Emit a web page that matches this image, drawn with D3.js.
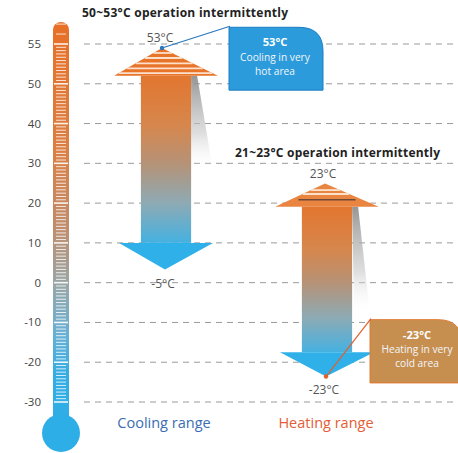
<!DOCTYPE html>
<html>
<head>
<meta charset="utf-8">
<script src="https://cdn.jsdelivr.net/npm/d3@7"></script>
<style>
  body { margin: 0; background: #fff; }
  svg { display: block; font-family: "Open Sans", Lato, sans-serif; }
</style>
</head>
<body>
<svg width="458" height="453"></svg>
<script>
// thermometer scale (labels on the left, dashed grid)
const tickValues = [55, 50, 40, 30, 20, 10, 0, -10, -20, -30];

// the two operating ranges
const ranges = ['Cooling range', 'Heating range'];
const rangeColors = ['#3a6db3', '#e35d36'];
const captions = ['50~53°C operation intermittently', '21~23°C operation intermittently'];
const topLabels = ['53°C', '23°C'];
const bottomLabels = ['-5°C', '-23°C'];

// arrow outline in axis units as drawn (tip, head base, tail base, tail tip)
const arrowTip = [54.5, 24.9];
const headBase = [51, 19.1];
const tailBase = [10, -17.5];
const tailTip = [3.3, -23.6];

// callouts
const calloutTitles = ['53°C', '-23°C'];
const calloutLines = [['Cooling in very', 'hot area'], ['Heating in very', 'cold area']];

const svg = d3.select('svg');
const defs = svg.append('defs');

// piecewise scale: every labelled tick is equally spaced
const yPoint = d3.scalePoint().domain(tickValues).range([44, 402]);
const y = d3.scaleLinear().domain(tickValues).range(tickValues.map((d) => yPoint(d)));

const x = d3.scaleBand().domain(ranges).range([84, 408]);
const bw = x.bandwidth();
const cx = (d) => x(d) + bw / 2;

// gradients
const addGradient = (id, y1, y2, stops) => {
  const g = defs.append('linearGradient').attr('id', id)
    .attr('gradientUnits', 'userSpaceOnUse')
    .attr('x1', 0).attr('x2', 0).attr('y1', y1).attr('y2', y2);
  stops.forEach(([o, c, op]) => g.append('stop').attr('offset', o).attr('stop-color', c).attr('stop-opacity', op == null ? 1 : op));
};

const bodyStops = [[0, '#e2762f'], [0.3, '#d6874e'], [0.52, '#b69276'], [0.76, '#8eaab4'], [1, '#45b1e1']];

// grid
svg.append('g')
  .selectAll('line')
  .data(tickValues)
  .join('line')
  .attr('x1', 84).attr('x2', 458)
  .attr('y1', (d) => y(d)).attr('y2', (d) => y(d))
  .attr('stroke', '#9a9a9a')
  .attr('stroke-dasharray', '6,5');

// tick labels
svg.append('g')
  .selectAll('text')
  .data(tickValues)
  .join('text')
  .attr('x', 41)
  .attr('y', (d) => y(d) + 4)
  .attr('text-anchor', 'end')
  .attr('font-size', 11.5)
  .attr('fill', '#444')
  .text((d) => d);

// thermometer
const tTop = 22;
const bulbY = 433;
addGradient('thermo', tTop, bulbY, [[0, '#e86f26'], [0.3, '#dc7e42'], [0.5, '#c08d6c'], [0.64, '#98a7a8'], [0.76, '#68b0d4'], [0.86, '#33ade4'], [1, '#2eaee6']]);
const thermo = svg.append('g');
thermo.append('rect')
  .attr('x', 53).attr('y', tTop).attr('width', 16).attr('height', bulbY - tTop)
  .attr('rx', 8)
  .attr('fill', 'url(#thermo)');
thermo.append('circle')
  .attr('cx', 61).attr('cy', bulbY).attr('r', 19)
  .attr('fill', '#2eaee6');

// minor ticks: 12 per labelled interval
const minor = [];
for (let i = 0; i < tickValues.length - 1; i++) {
  const a = tickValues[i], b = tickValues[i + 1];
  for (let k = 1; k < 12; k++) minor.push(a + (b - a) * k / 12);
}
[57.5, 56.25].forEach((v) => minor.push(v));
thermo.selectAll('.minor')
  .data(minor)
  .join('line')
  .attr('class', 'minor')
  .attr('x1', 56).attr('x2', 66)
  .attr('y1', (d) => y(d)).attr('y2', (d) => y(d))
  .attr('stroke', '#fff').attr('stroke-opacity', 0.8).attr('stroke-width', 1);
thermo.selectAll('.major')
  .data(tickValues)
  .join('line')
  .attr('class', 'major')
  .attr('x1', 54).attr('x2', 68)
  .attr('y1', (d) => y(d)).attr('y2', (d) => y(d))
  .attr('stroke', '#fff').attr('stroke-opacity', 0.9).attr('stroke-width', 1.6);

// arrows
const arrows = svg.append('g');
ranges.forEach((r, i) => {
  const c = cx(r) + (i === 0 ? 1 : 0);
  const yTip = y(arrowTip[i]);
  const yHead = y(headBase[i]);
  const yTail = y(tailBase[i]);
  const yTailTip = y(tailTip[i]);
  const headHalf = bw * 0.32;
  const bodyHalf = bw * 0.155;
  const tailHalf = bw * 0.29;

  addGradient('body' + i, yHead, yTail, bodyStops);
  addGradient('shadow' + i, yHead, i === 0 ? y(28) : y(-8), [[0, '#8a8a8a', 0.9], [0.6, '#c8c8c8', 0.6], [1, '#ffffff', 0]]);

  // shadow
  const sx = c + bodyHalf;
  const shadowPts = i === 0
    ? [[sx, yHead], [sx + 6, yHead], [sx + 22, y(28)], [sx, y(28)]]
    : [[sx, yHead], [sx + 6, yHead], [sx + 18, y(-8)], [sx + 2, y(-8)]];
  arrows.append('polygon')
    .attr('points', shadowPts.map((p) => p.join(',')).join(' '))
    .attr('fill', 'url(#shadow' + i + ')');

  // body
  arrows.append('rect')
    .attr('x', c - bodyHalf).attr('y', yHead)
    .attr('width', bodyHalf * 2).attr('height', yTail - yHead)
    .attr('fill', 'url(#body' + i + ')');

  // bottom head
  arrows.append('polygon')
    .attr('points', [[c - tailHalf, yTail], [c + tailHalf, yTail], [c - 1, yTailTip]].map((p) => p.join(',')).join(' '))
    .attr('fill', '#2fb0e8');

  // top head with stripes
  const tipX = c - (i === 0 ? 4 : 2);
  arrows.append('polygon')
    .attr('points', [[c - headHalf, yHead], [c + headHalf, yHead], [tipX, yTip]].map((p) => p.join(',')).join(' '))
    .attr('fill', i === 0 ? '#e8742a' : '#e98540');

  const stripeFr = i === 0 ? [0.18, 0.36, 0.55, 0.73, 0.9] : [0.28, 0.45];
  stripeFr.forEach((f) => {
    const sy = yTip + (yHead - yTip) * f;
    const half = headHalf * f;
    arrows.append('line')
      .attr('x1', tipX - half + (c - tipX) * f).attr('x2', tipX + half + (c - tipX) * f)
      .attr('y1', sy).attr('y2', sy)
      .attr('stroke', '#fbe0cc').attr('stroke-width', 1.8);
  });
  if (i === 1) {
    const sy = yTip + (yHead - yTip) * 0.7;
    arrows.append('line')
      .attr('x1', c - headHalf * 0.55).attr('x2', c + headHalf * 0.55)
      .attr('y1', sy).attr('y2', sy)
      .attr('stroke', '#6e4a36').attr('stroke-width', 1.3);
  }

  // value labels
  arrows.append('text')
    .attr('x', tipX - 2).attr('y', yTip - 6)
    .attr('text-anchor', 'middle').attr('font-size', 12)
    .attr('fill', '#555')
    .text(topLabels[i]);
  arrows.append('text')
    .attr('x', c - 3).attr('y', yTailTip + (i === 0 ? 18 : 17))
    .attr('text-anchor', 'middle').attr('font-size', 12)
    .attr('fill', '#555')
    .text(bottomLabels[i]);

  // range name
  svg.append('text')
    .attr('x', cx(r) - 1).attr('y', 428)
    .attr('text-anchor', 'middle').attr('font-size', 14.5)
    .attr('fill', rangeColors[i])
    .text(r);
});

// captions
svg.append('text')
  .attr('x', 82).attr('y', 17)
  .attr('font-size', 12).attr('font-weight', 'bold').attr('fill', '#222')
  .attr('textLength', 206)
  .text(captions[0]);
svg.append('text')
  .attr('x', 235).attr('y', 157)
  .attr('font-size', 12).attr('font-weight', 'bold').attr('fill', '#222')
  .attr('textLength', 205)
  .text(captions[1]);

// callout boxes
const boxPath = (x0, y0, w, h, r) =>
  `M${x0},${y0} H${x0 + w - r} Q${x0 + w},${y0} ${x0 + w},${y0 + r} V${y0 + h} H${x0} Z`;

const callouts = [
  { x0: 229, y0: y(57.1), w: 94, h: y(48.4) - y(57.1), fill: '#2b9bdb', stroke: '#1c7cc4', lineColor: '#2b78bf', tx: 275 },
  { x0: 370, y0: y(-9.3), w: 92, h: y(-25.2) - y(-9.3), fill: '#c68f50', stroke: '#e07a34', lineColor: '#e0602e', tx: 417 }
];
callouts.forEach((b, i) => {
  svg.append('path')
    .attr('d', boxPath(b.x0, b.y0, b.w, b.h, 24))
    .attr('fill', b.fill)
    .attr('stroke', b.stroke).attr('stroke-width', 1);
  svg.append('text')
    .attr('x', b.tx).attr('y', b.y0 + 19)
    .attr('text-anchor', 'middle').attr('font-size', 11.2).attr('font-weight', 'bold')
    .attr('fill', '#fff')
    .text(calloutTitles[i]);
  calloutLines[i].forEach((t, k) => {
    svg.append('text')
      .attr('x', b.tx).attr('y', b.y0 + 33.5 + k * 14)
      .attr('text-anchor', 'middle').attr('font-size', 10.2)
      .attr('fill', '#f2f6fa')
      .text(t);
  });
  // connector from arrow tip to box corner
  const tipX = i === 0 ? cx(ranges[0]) - 3 : cx(ranges[1]) - 1;
  const tipY = i === 0 ? y(arrowTip[0]) : y(tailTip[1]);
  svg.append('line')
    .attr('x1', tipX).attr('y1', tipY)
    .attr('x2', b.x0 + 1).attr('y2', b.y0 - 1)
    .attr('stroke', b.lineColor).attr('stroke-width', 1.2);
  svg.append('circle')
    .attr('cx', tipX).attr('cy', tipY).attr('r', 2.2)
    .attr('fill', b.lineColor);
});
</script>
</body>
</html>
